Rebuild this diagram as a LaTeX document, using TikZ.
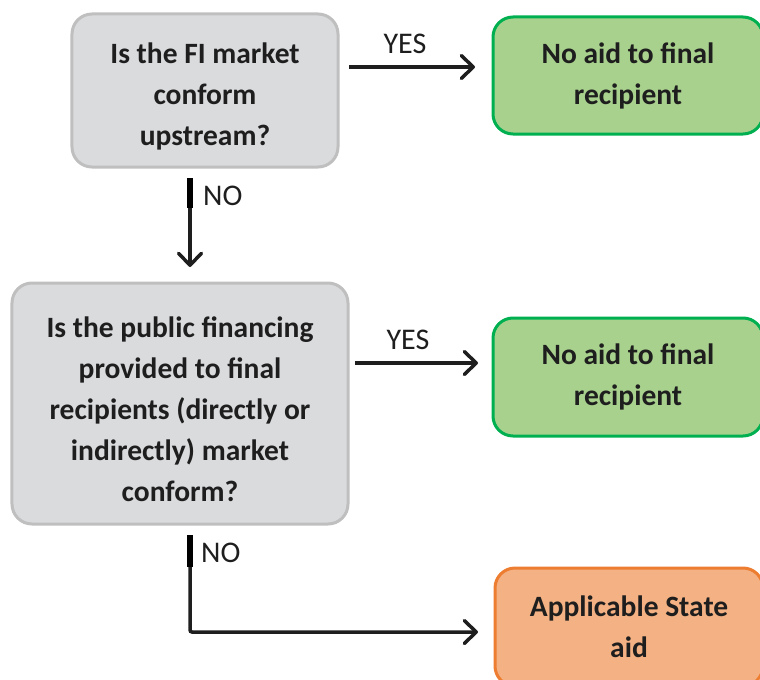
\documentclass[tikz,border=0pt]{standalone}
\usepackage{fontspec}
\setmainfont{Carlito}
\usetikzlibrary{arrows.meta}
\definecolor{qfill}{HTML}{DADBDD}
\definecolor{qline}{HTML}{BFBFBF}
\definecolor{nfill}{HTML}{A9D18E}
\definecolor{nline}{HTML}{00B050}
\definecolor{sfill}{HTML}{F4B183}
\definecolor{sline}{HTML}{ED7D31}
\definecolor{ink}{HTML}{1E1E1E}
\newcommand{\topstrut}{\rule{0pt}{32bp}}
\begin{document}
\begin{tikzpicture}[x=1bp,y=-1bp,
    box/.style={rounded corners=20bp, line width=3bp, align=center, text=ink,
                font=\fontsize{29.5bp}{41bp}\selectfont\bfseries, inner sep=0pt},
    question/.style={box, fill=qfill, draw=qline},
    noaid/.style={box, fill=nfill, draw=nline},
    stateaid/.style={box, fill=sfill, draw=sline},
    arr/.style={line width=3.5bp, draw=ink, -{Straight Barb[length=12bp,width=23bp,round]}},
    bar/.style={line width=6.5bp, draw=black},
    answer/.style={font=\fontsize{30bp}{32bp}\selectfont, text=ink, inner sep=0pt}]
  \useasboundingbox (0,0) rectangle (760,680);
  \clip (0,0) rectangle (760,680);
  % boxes
  \node[question, minimum width=266bp, minimum height=153bp] (q1) at (205,90.5)
    {\topstrut Is the FI market\\conform\\upstream?};
  \node[noaid, minimum width=270bp, minimum height=117bp] (a1) at (628,75.5)
    {No aid to final\\recipient};
  \node[question, minimum width=336bp, minimum height=241bp] (q2) at (180,403.5)
    {\topstrut Is the public financing\\provided to final\\recipients (directly or\\indirectly) market\\conform?};
  \node[noaid, minimum width=270bp, minimum height=118bp] (a2) at (628,377)
    {No aid to final\\recipient};
  \node[stateaid, minimum width=268bp, minimum height=118bp] (s) at (629,627)
    {Applicable State\\aid};
  % arrow ends
  \coordinate (y1s) at (349,67);
  \coordinate (y1e) at (475,67);
  \coordinate (n1s) at (190,178);
  \coordinate (n1b) at (190,208);
  \coordinate (n1e) at (190,267);
  \coordinate (y2s) at (355,363);
  \coordinate (y2e) at (478,363);
  \coordinate (n2s) at (190,535);
  \coordinate (n2b) at (190,567);
  \coordinate (n2k) at (190,632);
  \coordinate (n2e) at (478,632);
  % connectors
  \draw[arr] (y1s) -- (y1e);
  \node[answer] (yes1) at (405,44) {YES};
  \draw[bar] (n1s) -- (n1b);
  \draw[arr] (n1b) -- (n1e);
  \node[answer, anchor=west] (no1) at (203,196) {NO};
  \draw[arr] (y2s) -- (y2e);
  \node[answer] (yes2) at (408,340) {YES};
  \draw[bar] (n2s) -- (n2b);
  \draw[arr, rounded corners=2bp] (n2b) -- (n2k) -- (n2e);
  \node[answer, anchor=west] (no2) at (201,553) {NO};
\end{tikzpicture}
\end{document}
